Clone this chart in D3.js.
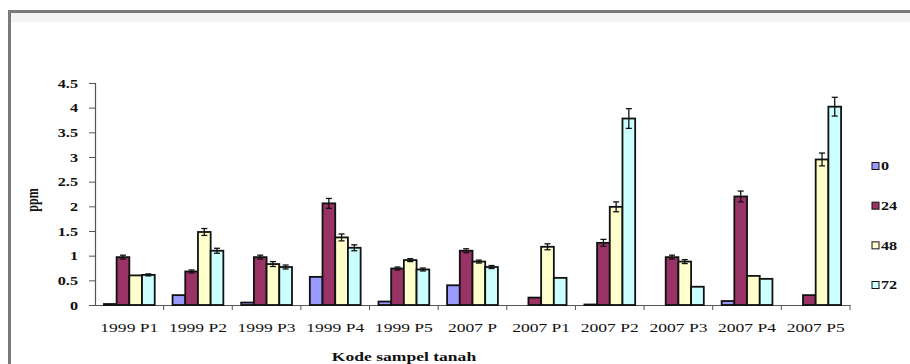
<!DOCTYPE html>
<html>
<head>
    <title>Kode sampel tanah</title>
    <script src="https://d3js.org/d3.v7.min.js"></script>
    <style>
        body { margin: 0; background: #fff; }
        text { font-family: "Liberation Serif", "Times New Roman", serif; fill: #111; }
    </style>
</head>
<body>
    <svg class="chart" width="910" height="364"></svg>

    <script>
// data
const categories = ['1999 P1', '1999 P2', '1999 P3', '1999 P4', '1999 P5', '2007 P',
                    '2007 P1', '2007 P2', '2007 P3', '2007 P4', '2007 P5'];
const seriesNames = ['0', '24', '48', '72'];
const h0  = [0.02, 0.20, 0.05, 0.57, 0.07, 0.40, 0.00, 0.01, 0.00, 0.08, 0.00];
const h24 = [0.97, 0.68, 0.97, 2.06, 0.74, 1.10, 0.15, 1.26, 0.97, 2.20, 0.20];
const h48 = [0.60, 1.48, 0.83, 1.37, 0.91, 0.88, 1.18, 1.99, 0.88, 0.59, 2.95];
const h72 = [0.61, 1.10, 0.77, 1.16, 0.72, 0.77, 0.55, 3.78, 0.37, 0.53, 4.02];
const e0  = [0, 0, 0, 0, 0, 0, 0, 0, 0, 0, 0];
const e24 = [0.04, 0.03, 0.04, 0.10, 0.03, 0.04, 0, 0.07, 0.04, 0.11, 0];
const e48 = [0, 0.07, 0.05, 0.07, 0.03, 0.03, 0.06, 0.10, 0.04, 0, 0.13];
const e72 = [0.02, 0.05, 0.04, 0.06, 0.03, 0.03, 0, 0.20, 0, 0, 0.19];
const yTicks = [0, 0.5, 1, 1.5, 2, 2.5, 3, 3.5, 4, 4.5];
const colors = ['#9999ff', '#993366', '#ffffcc', '#ccffff'];

const values = [h0, h24, h48, h72];
const errors = [e0, e24, e48, e72];

function plotChart() {
    const svg = d3.select('.chart');
    const stretch = 1.35; // text in the picture is wide

    // frame
    svg.append('rect').attr('x', 10).attr('y', 13).attr('width', 900).attr('height', 9)
        .attr('fill', '#f1f3f5');
    svg.append('line').attr('x1', 8).attr('x2', 910).attr('y1', 11.5).attr('y2', 11.5)
        .attr('stroke', '#7a7a7a').attr('stroke-width', 3);
    svg.append('line').attr('x1', 9.5).attr('x2', 9.5).attr('y1', 10).attr('y2', 364)
        .attr('stroke', '#7a7a7a').attr('stroke-width', 3);

    const margin = { left: 95, right: 60, top: 83, bottom: 59 };
    const width = 910 - margin.left - margin.right;
    const height = 364 - margin.top - margin.bottom;
    const g = svg.append('g').attr('transform', `translate(${margin.left},${margin.top})`);

    const x0 = d3.scaleBand().domain(categories).range([0, width])
        .paddingInner(0.26).paddingOuter(0.13);
    const step = x0.step();
    const x1 = d3.scaleBand().domain(seriesNames).range([0, x0.bandwidth()]);
    const y = d3.scaleLinear().domain([0, 4.5]).range([height, 0]);

    // axes
    const yAxis = g.append('g').call(d3.axisLeft(y).tickValues(yTicks).tickSize(6).tickFormat(d => d));
    yAxis.select('.domain').attr('stroke', '#555').attr('stroke-width', 1.2);
    yAxis.selectAll('.tick line').attr('stroke', '#555');
    yAxis.selectAll('.tick text').remove();
    yAxis.selectAll('.tick').append('text')
        .attr('transform', `translate(-17,0) scale(${stretch},1)`)
        .attr('dy', '0.35em')
        .attr('text-anchor', 'end')
        .style('font-size', '12px')
        .style('font-weight', '600')
        .text(d => d);

    const xAxis = g.append('g').attr('transform', `translate(0,${height})`)
        .call(d3.axisBottom(x0).tickSize(0).tickFormat(''));
    xAxis.select('.domain').attr('stroke', '#555').attr('stroke-width', 1.2);
    // boundary ticks between categories
    g.selectAll('.sep')
        .data(categories)
        .enter().append('line')
        .attr('x1', d => x0(d) - (step - x0.bandwidth()) / 2 + step)
        .attr('x2', d => x0(d) - (step - x0.bandwidth()) / 2 + step)
        .attr('y1', height).attr('y2', height + 5)
        .attr('stroke', '#555');
    g.selectAll('.xlab')
        .data(categories)
        .enter().append('text')
        .attr('transform', d => `translate(${x0(d) + x0.bandwidth() / 2},${height + 27}) scale(${stretch},1)`)
        .attr('text-anchor', 'middle')
        .style('font-size', '13px')
        .text(d => d);

    // bars
    const groups = g.selectAll('.grp')
        .data(categories)
        .enter().append('g')
        .attr('transform', d => `translate(${x0(d)},0)`);

    groups.selectAll('rect')
        .data((c, i) => seriesNames.map((s, k) => ({ s, k, v: values[k][i], e: errors[k][i] })))
        .enter().append('rect')
        .attr('x', d => x1(d.s))
        .attr('y', d => y(d.v))
        .attr('width', x1.bandwidth())
        .attr('height', d => height - y(d.v))
        .attr('fill', d => colors[d.k])
        .attr('stroke', '#111')
        .attr('stroke-width', 1.8);

    // error bars
    const eb = groups.selectAll('.err')
        .data((c, i) => seriesNames.map((s, k) => ({ s, k, v: values[k][i], e: errors[k][i] }))
            .filter(d => d.e > 0))
        .enter().append('g')
        .attr('transform', d => `translate(${x1(d.s) + x1.bandwidth() / 2},0)`)
        .attr('stroke', '#111').attr('stroke-width', 1.3);
    eb.append('line').attr('x1', 0).attr('x2', 0)
        .attr('y1', d => y(d.v + d.e)).attr('y2', d => y(d.v - d.e));
    eb.append('line').attr('x1', -3).attr('x2', 3)
        .attr('y1', d => y(d.v + d.e)).attr('y2', d => y(d.v + d.e));
    eb.append('line').attr('x1', -3).attr('x2', 3)
        .attr('y1', d => y(d.v - d.e)).attr('y2', d => y(d.v - d.e));

    // axis titles
    svg.append('text')
        .attr('transform', `translate(38,200) rotate(-90) scale(1,${stretch})`)
        .attr('text-anchor', 'middle')
        .style('font-size', '12px')
        .style('font-weight', 'bold')
        .text('ppm');
    svg.append('text')
        .attr('transform', `translate(404,361) scale(${stretch},1)`)
        .attr('text-anchor', 'middle')
        .style('font-size', '13px')
        .style('font-weight', 'bold')
        .text('Kode sampel tanah');

    // legend
    const legendY = d3.scalePoint().domain(seriesNames).range([166, 285]);
    const lg = svg.selectAll('.leg')
        .data(seriesNames)
        .enter().append('g')
        .attr('transform', d => `translate(872,${legendY(d)})`);
    lg.append('rect')
        .attr('x', 0).attr('y', -3.5).attr('width', 7).attr('height', 7)
        .attr('fill', (d, i) => colors[i])
        .attr('stroke', '#111').attr('stroke-width', 1);
    lg.append('text')
        .attr('transform', `translate(9,0) scale(${stretch},1)`)
        .attr('dy', '0.35em')
        .style('font-size', '12px')
        .style('font-weight', 'bold')
        .text(d => d);
}

plotChart();
    </script>
</body>
</html>
